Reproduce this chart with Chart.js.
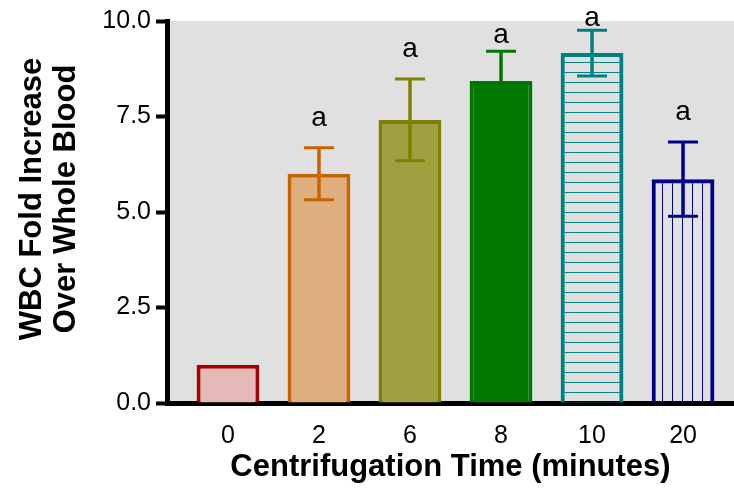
<!DOCTYPE html>
<html>
<head>
<meta charset="utf-8">
<title>WBC fold increase vs centrifugation time</title>
<script src="https://cdn.jsdelivr.net/npm/chart.js@4/dist/chart.umd.min.js"></script>
<style>
  html, body { margin: 0; padding: 0; background: #fff; }
  #wrap { position: relative; width: 734px; height: 489px; }
</style>
</head>
<body>
<div id="wrap"><canvas id="chart"></canvas></div>
<script>
"use strict";

// Values (mean fold increase and error bar half-length).
const times = ["0", "2", "6", "8", "10", "20"];
const foldMean = [1.0, 6.0, 7.41, 8.43, 9.16, 5.86];
const foldErr = [0, 0.68, 1.07, 0.78, 0.6, 0.97];
const sigLetters = ["", "a", "a", "a", "a", "a"];
const yTicks = [0, 2.5, 5, 7.5, 10];

const FONT = "'Liberation Sans', Arial, Helvetica, sans-serif";
const PLOT_BG = "#e0e0e0";

const borderColors = ["#a80000", "#c86400", "#808000", "#007800", "#008080", "#000088"];

// Line hatches for the 10 and 20 min bars; transparent so the plot bg shows.
function hatch(color, vertical) {
  const c = document.createElement("canvas");
  c.width = 10;
  c.height = 10;
  const g = c.getContext("2d");
  g.fillStyle = color;
  if (vertical) g.fillRect(2, 0, 1, 10);
  else g.fillRect(0, 2, 10, 1);
  return g.createPattern(c, "repeat");
}
const fillColors = [
  "#e6b9b9",
  "#dfae7f",
  "#a0a040",
  "#007800",
  hatch("#008080", false),
  hatch("#000088", true),
];

// --- Plugins -------------------------------------------------------------- //
const plotBackground = {
  id: "plotBackground",
  beforeDraw(chart) {
    const { ctx, chartArea: a } = chart;
    ctx.save();
    ctx.fillStyle = PLOT_BG;
    ctx.fillRect(a.left, a.top, a.right - a.left, a.bottom - a.top);
    ctx.restore();
  },
};

const errorBars = {
  id: "errorBars",
  afterDatasetsDraw(chart) {
    const { ctx } = chart;
    const y = chart.scales.y;
    const meta = chart.getDatasetMeta(0);
    ctx.save();
    meta.data.forEach((bar, i) => {
      const top = y.getPixelForValue(foldMean[i] + foldErr[i]);
      const bot = y.getPixelForValue(foldMean[i] - foldErr[i]);
      const x = bar.x;
      ctx.strokeStyle = borderColors[i];
      if (foldErr[i] > 0) {
        ctx.lineWidth = 3.5;
        ctx.beginPath();
        ctx.moveTo(x, top);
        ctx.lineTo(x, bot);
        ctx.stroke();
        ctx.lineWidth = 3;
        ctx.beginPath();
        ctx.moveTo(x - 15, top);
        ctx.lineTo(x + 15, top);
        ctx.moveTo(x - 15, bot);
        ctx.lineTo(x + 15, bot);
        ctx.stroke();
      }
      if (sigLetters[i]) {
        // letter sits above the cap, squeezed when the cap is near the top
        const gap = Math.min(22, Math.max(4, top - 43));
        ctx.fillStyle = "#000";
        ctx.font = "28px " + FONT;
        ctx.textAlign = "center";
        ctx.textBaseline = "alphabetic";
        ctx.fillText(sigLetters[i], x, top - gap);
      }
    });
    ctx.restore();
  },
};

const yTitle = {
  id: "yTitle",
  afterDraw(chart) {
    const { ctx } = chart;
    ctx.save();
    ctx.translate(0, 199);
    ctx.rotate(-Math.PI / 2);
    ctx.fillStyle = "#000";
    ctx.font = "bold 31px " + FONT;
    ctx.textAlign = "center";
    ctx.textBaseline = "middle";
    ctx.fillText("WBC Fold Increase", 0, 32);
    ctx.fillText("Over Whole Blood", 0, 66);
    ctx.restore();
  },
};

// --- Chart ---------------------------------------------------------------- //
new Chart(document.getElementById("chart"), {
  type: "bar",
  data: {
    datasets: [{
      data: foldMean.map((v, i) => ({ x: i, y: v })),
      backgroundColor: fillColors,
      borderColor: borderColors,
      borderWidth: 4,
      borderSkipped: "bottom",
      barPercentage: 0.69,
      categoryPercentage: 1,
    }],
  },
  options: {
    responsive: true,
    maintainAspectRatio: false,
    animation: false,
    layout: { padding: { top: 21, right: 0, left: 0, bottom: 0 } },
    plugins: { legend: { display: false }, tooltip: { enabled: false } },
    scales: {
      x: {
        type: "linear",
        min: -0.67,
        max: 5.56,
        offset: false,
        z: 1,
        afterBuildTicks: (s) => { s.ticks = times.map((_, i) => ({ value: i })); },
        afterFit: (s) => { s.height = 86; },
        grid: { display: false, offset: false },
        border: { display: true, color: "#000", width: 5 },
        ticks: {
          color: "#000",
          padding: 10,
          font: { family: FONT, size: 25 },
          maxRotation: 0,
          callback: (v) => times[v] ?? "",
        },
        title: {
          display: true,
          text: "Centrifugation Time (minutes)",
          color: "#000",
          font: { family: FONT, size: 31, weight: "bold" },
          padding: { top: 0, bottom: 3 },
        },
      },
      y: {
        min: 0,
        max: 10,
        z: 1,
        afterBuildTicks: (s) => { s.ticks = yTicks.map((v) => ({ value: v })); },
        afterFit: (s) => { s.width = 167; },
        grid: {
          drawOnChartArea: false,
          drawTicks: true,
          tickLength: 11,
          tickWidth: 4,
          tickColor: "#000",
        },
        border: { display: true, color: "#000", width: 5 },
        ticks: {
          color: "#000",
          padding: 5,
          font: { family: FONT, size: 25 },
          callback: (v) => Number(v).toFixed(1),
        },
      },
    },
  },
  plugins: [plotBackground, errorBars, yTitle],
});
</script>
</body>
</html>
